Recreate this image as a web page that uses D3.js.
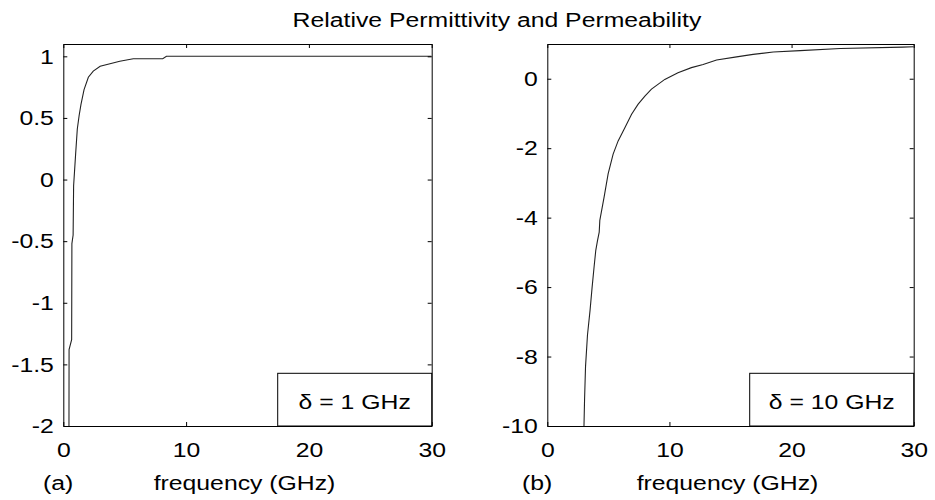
<!DOCTYPE html>
<html>
<head>
<meta charset="utf-8">
<script src="https://cdn.jsdelivr.net/npm/d3@7"></script>
<style>
  body { margin: 0; background: #fff; }
  text { font-family: "Liberation Sans", Arial, sans-serif; fill: #000; }
</style>
</head>
<body>
<div id="chart"></div>
<script>
// values
const freqTicks = [0, 10, 20, 30];
const epsTicks = [1, 0.5, 0, -0.5, -1, -1.5, -2];
const muTicks = [0, -2, -4, -6, -8, -10];

// (a) delta = 1 GHz
const epsFreq = [0.46, 0.47, 0.68, 0.70, 0.80, 0.84, 1.00, 1.14, 1.29, 1.44, 1.69, 2.04, 2.44, 3.0, 3.8, 4.6, 5.7, 8.1, 8.4, 30];
const epsVal  = [-2.1, -1.38, -1.30, -0.52, -0.45, -0.05, 0.20, 0.41, 0.52, 0.61, 0.73, 0.83, 0.88, 0.92, 0.94, 0.96, 0.98, 0.98, 1.0, 1.0];

// (b) delta = 10 GHz
const muFreq = [2.99, 3.05, 3.13, 3.29, 3.50, 3.67, 3.83, 3.97, 4.11, 4.25, 4.30, 4.65, 4.98, 5.39, 5.8, 6.35, 6.9, 7.44, 7.99, 8.53, 9.62, 10.7, 11.8, 12.76, 13.86, 15.5, 16.85, 18.5, 20.7, 24, 29.1, 30];
const muVal  = [-10.2, -9.25, -8.29, -7.38, -6.67, -6.0, -5.42, -4.94, -4.66, -4.42, -4.08, -3.41, -2.74, -2.17, -1.79, -1.41, -1.02, -0.73, -0.5, -0.30, -0.02, 0.17, 0.32, 0.41, 0.54, 0.63, 0.70, 0.77, 0.81, 0.87, 0.91, 0.92];

const panelLabels = ["(a)", "(b)"];
const legendLabels = ["\u03b4 = 1 GHz", "\u03b4 = 10 GHz"];
const titleText = "Relative Permittivity and Permeability";
const xLabelText = "frequency (GHz)";

const W = 935, H = 500;
const FS = 21;          // font size
const SX = 1.18;        // the reference text is drawn a bit wider than Arial

const svg = d3.select("#chart").append("svg")
    .attr("width", W)
    .attr("height", H);

svg.append("rect").attr("width", W).attr("height", H).attr("fill", "#fff");

// text helper, stretched horizontally around its anchor point
function label(g, x, y, str, anchor) {
    return g.append("text")
        .attr("transform", `translate(${x},${y}) scale(${SX},1)`)
        .attr("text-anchor", anchor)
        .attr("font-size", FS)
        .text(str);
}

function drawPanel(p) {
    const x = d3.scaleLinear().domain([0, 30]).range([p.left, p.right]);
    const y = d3.scaleLinear().domain(p.yDomain).range([p.bottom, p.top]);
    const g = svg.append("g");

    const clipId = "clip" + p.id;
    svg.append("clipPath").attr("id", clipId)
        .append("rect")
        .attr("x", p.left).attr("y", p.top)
        .attr("width", p.right - p.left).attr("height", p.bottom - p.top);

    // the curve
    const pts = p.freq.map((f, i) => ({ f: f, v: p.val[i] }));
    g.append("path")
        .datum(pts)
        .attr("clip-path", `url(#${clipId})`)
        .attr("fill", "none")
        .attr("stroke", "#222")
        .attr("stroke-width", 1.1)
        .attr("d", d3.line().x(d => x(d.f)).y(d => y(d.v)));

    // bottom axis with labels, inward ticks
    const bx = g.append("g")
        .attr("transform", `translate(0,${p.bottom})`)
        .call(d3.axisBottom(x).tickValues(freqTicks).tickFormat(d3.format("d"))
            .tickSizeInner(-4).tickSizeOuter(0).tickPadding(16));

    // left axis with labels
    const ly = g.append("g")
        .attr("transform", `translate(${p.left},0)`)
        .call(d3.axisLeft(y).tickValues(p.yTicks).tickFormat(d => String(d))
            .tickSizeInner(-4).tickSizeOuter(0).tickPadding(8));

    // mirrored top / right ticks (box on)
    const tx = g.append("g")
        .attr("transform", `translate(0,${p.top})`)
        .call(d3.axisTop(x).tickValues(freqTicks).tickFormat("")
            .tickSizeInner(-4).tickSizeOuter(0));
    const ry = g.append("g")
        .attr("transform", `translate(${p.right},0)`)
        .call(d3.axisRight(y).tickValues(p.yTicks).tickFormat("")
            .tickSizeInner(-4).tickSizeOuter(0));

    [bx, ly, tx, ry].forEach(a => {
        a.selectAll("path, line").attr("stroke", "#000").attr("stroke-width", 1);
        a.selectAll("text")
            .attr("font-size", FS)
            .attr("font-family", "Liberation Sans, Arial, sans-serif")
            .attr("fill", "#000");
    });
    bx.selectAll("text").attr("transform", `scale(${SX},1)`);
    ly.selectAll("text").attr("transform", `scale(${SX},1)`);

    // legend box in the lower right corner
    const lg = g.append("g");
    lg.append("rect")
        .attr("x", p.right - p.legendW).attr("y", p.bottom - 52.7)
        .attr("width", p.legendW).attr("height", 52.7)
        .attr("fill", "#fff").attr("stroke", "#000").attr("stroke-width", 1);
    label(lg, p.right - p.legendW / 2, p.bottom - 17, p.legend, "middle");

    // panel tag and axis label
    label(g, p.tagX, 490, p.tag, "start");
    label(g, (p.left + p.right) / 2 - 3, 490, xLabelText, "middle");
}

drawPanel({
    id: "a", left: 63.3, right: 431.7, top: 44, bottom: 426,
    yDomain: [-2, 1.1], yTicks: epsTicks,
    freq: epsFreq, val: epsVal,
    legend: legendLabels[0], legendW: 154, tag: panelLabels[0], tagX: 43
});

drawPanel({
    id: "b", left: 547.3, right: 913.7, top: 44, bottom: 426,
    yDomain: [-10, 1], yTicks: muTicks,
    freq: muFreq, val: muVal,
    legend: legendLabels[1], legendW: 164, tag: panelLabels[1], tagX: 522
});

label(svg, 497, 27, titleText, "middle");
</script>
</body>
</html>
